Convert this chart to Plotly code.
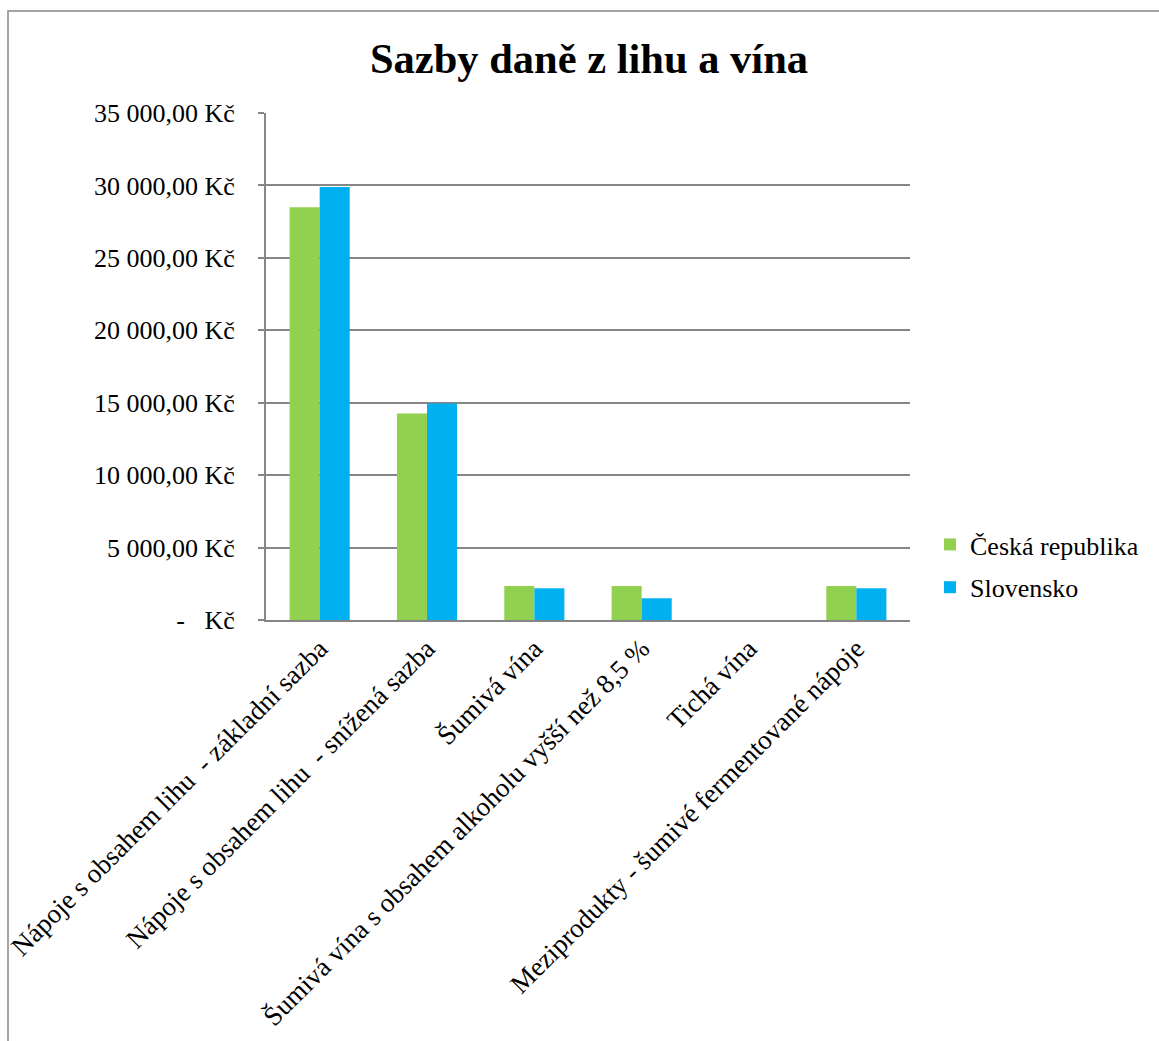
import plotly.graph_objects as go

categories = [
    "Nápoje s obsahem lihu  - základní sazba",
    "Nápoje s obsahem lihu  - snížená sazba",
    "Šumivá vína",
    "Šumivá vína s obsahem alkoholu vyšší než 8,5 %",
    "Tichá vína",
    "Meziprodukty - šumivé fermentované nápoje",
]
cz_values = [28500, 14250, 2340, 2340, 0, 2340]
sk_values = [29900, 14950, 2190, 1500, 0, 2190]

tick_vals = [0, 5000, 10000, 15000, 20000, 25000, 30000, 35000]
tick_text = ["-   Kč", "5 000,00 Kč", "10 000,00 Kč", "15 000,00 Kč", "20 000,00 Kč",
             "25 000,00 Kč", "30 000,00 Kč", "35 000,00 Kč"]

FONT = "Liberation Serif, Times New Roman, serif"
GRID = "#868686"

fig = go.Figure()
fig.add_trace(go.Bar(name="Česká republika", x=categories, y=cz_values,
                     marker=dict(color="#92D050", line=dict(width=0)), legendgroup="a"))
fig.add_trace(go.Bar(name="Slovensko", x=categories, y=sk_values,
                     marker=dict(color="#00B0F0", line=dict(width=0)), legendgroup="b"))

L, R, T, B = 266, 910, 113, 620
W, H = 1159, 1041
pw, ph = R - L, B - T

def px(x):
    return (x - L) / pw

def py(y):
    return (B - y) / ph

fig.add_shape(type="rect", xref="paper", yref="paper",
              x0=px(8), x1=px(1165), y0=py(11), y1=py(1050),
              line=dict(color=GRID, width=1.5), layer="below")

fig.update_layout(
    width=W, height=H,
    margin=dict(l=L, r=W - R, t=T, b=H - B, pad=0, autoexpand=False),
    paper_bgcolor="white", plot_bgcolor="white",
    font=dict(family=FONT, size=26, color="black"),
    title=dict(text="<b>Sazby daně z lihu a vína</b>", x=589 / W, xanchor="center",
               y=1 - 58 / H, yanchor="middle", font=dict(size=42.5, family=FONT, color="black")),
    barmode="group", bargap=0.44, bargroupgap=0,
    legend=dict(x=px(930), xanchor="left", y=py(566), yanchor="middle",
                font=dict(size=26, family=FONT), tracegroupgap=6,
                itemwidth=30, bgcolor="rgba(0,0,0,0)"),
    xaxis=dict(tickangle=-45, showline=True, linecolor=GRID, linewidth=2, automargin=False,
               ticks="", showgrid=False, tickfont=dict(size=27, family=FONT)),
    yaxis=dict(range=[0, 35000], tickvals=tick_vals, ticktext=tick_text, automargin=False,
               showgrid=True, gridcolor=GRID, gridwidth=1.5,
               showline=True, linecolor=GRID, linewidth=2,
               ticks="outside", ticklen=6, tickcolor=GRID, tickwidth=1.5,
               ticklabelstandoff=18,
               zeroline=False, tickfont=dict(size=26, family=FONT)),
)

fig.write_html("out.html")
